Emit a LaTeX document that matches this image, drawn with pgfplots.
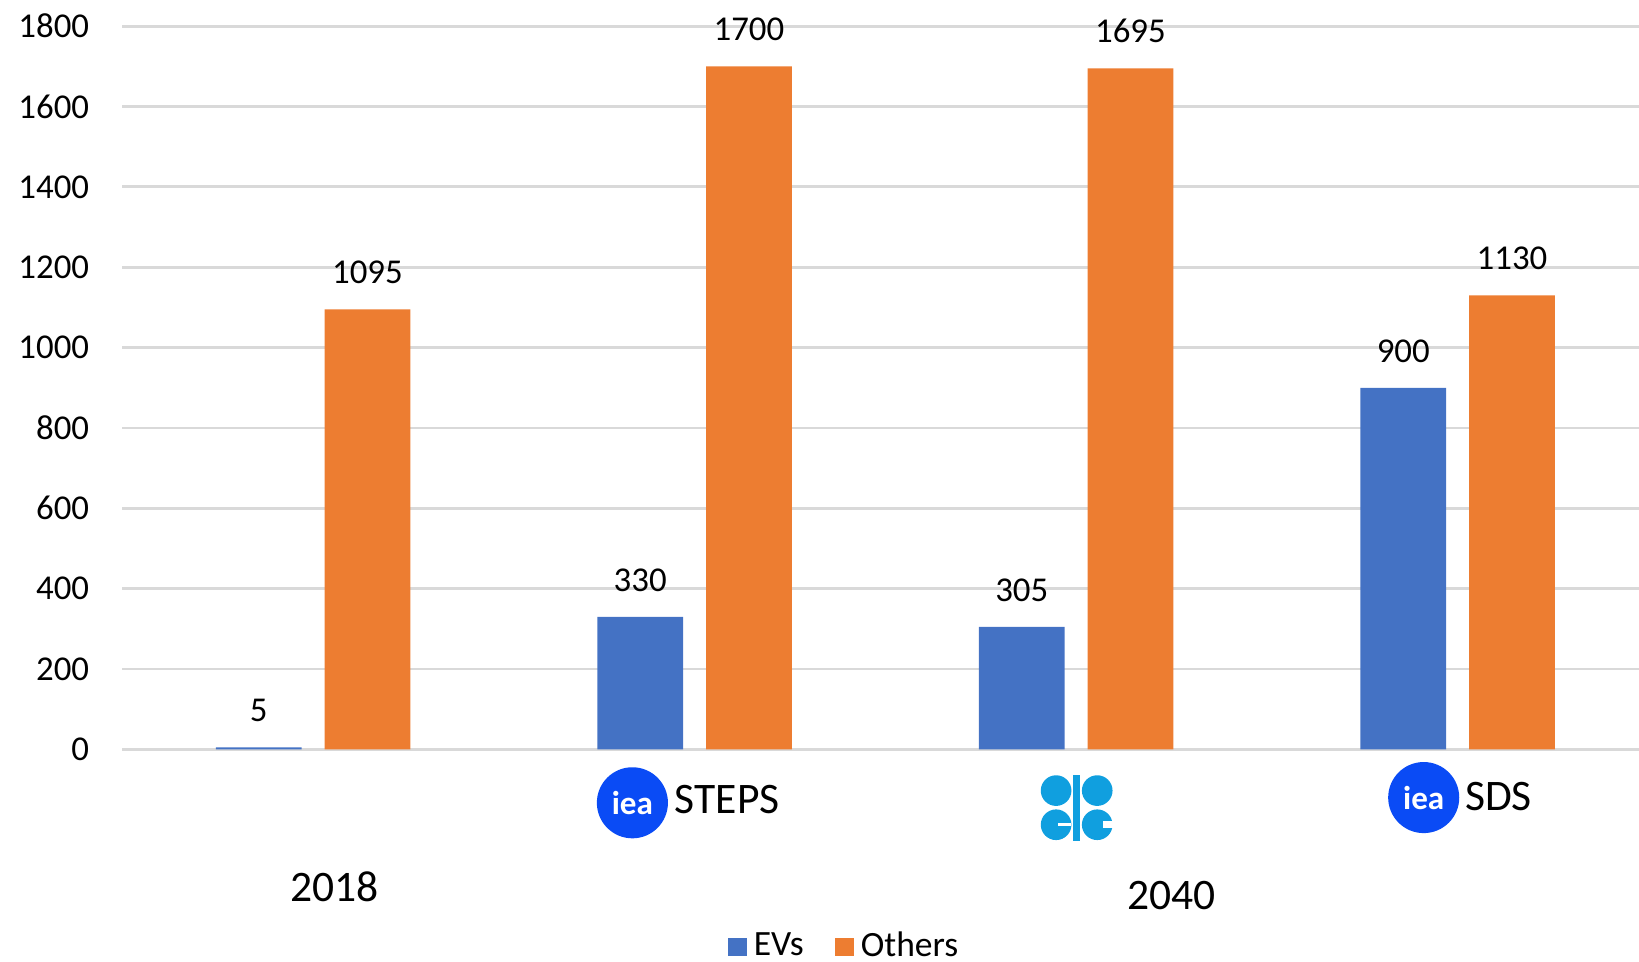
\documentclass[border=0pt]{standalone}
\usepackage{fontspec}
\setmainfont{Carlito}
\usepackage{pgfplots}
\pgfplotsset{compat=1.18}

\definecolor{evblue}{HTML}{4472C4}
\definecolor{othorange}{HTML}{ED7D31}
\definecolor{gridgray}{HTML}{D9D9D9}
\definecolor{ieablue}{HTML}{0A4BF5}
\definecolor{opecblue}{HTML}{109FDF}

\begin{document}
\begin{tikzpicture}
\begin{axis}[
    scale only axis,
    width=435.3pt, height=207.6pt,
    xmin=-0.5, xmax=3.4753,
    ymin=0, ymax=1800,
    ybar=6.6pt, bar width=24.6pt,
    axis line style={draw=none},
    xtick=\empty,
    ytick={0,200,...,1800},
    ymajorgrids,
    grid style={gridgray, line width=0.8pt},
    major tick length=0pt,
    yticklabel style={font=\fontsize{10}{12}\selectfont, xshift=-6pt},
    /pgf/number format/assume math mode=true,
    /pgf/number format/1000 sep={},
    nodes near coords,
    nodes near coords style={font=\fontsize{10}{12}\selectfont, yshift=3.8pt, text=black},
    clip=false,
    legend columns=2,
    legend style={at={(0.4776,-0.2731)}, anchor=center, draw=none, fill=none,
        font=\fontsize{10.2}{12}\selectfont,
        /tikz/every even column/.append style={column sep=7pt}},
    legend image code/.code={\fill[#1] (0pt,-2.7pt) rectangle (5.4pt,2.7pt);},
]
\addplot[fill=evblue, draw=none] coordinates {(0,5) (1,330) (2,305) (3,900)};
\addplot[fill=othorange, draw=none] coordinates {(0,1095) (1,1700) (2,1695) (3,1130)};
\legend{EVs, Others}

% spots for the labels and logos under the axis
\coordinate (bbsw) at (axis cs:-0.8205,-526.5);
\coordinate (bbne) at (axis cs:3.4753,1865);
\coordinate (steps) at (axis cs:0.8370,-132.7);
\coordinate (stepstxt) at (axis cs:0.9466,-124.9);
\coordinate (opec) at (axis cs:2.0014,-145.7);
\coordinate (sds) at (axis cs:2.9110,-119.7);
\coordinate (sdstxt) at (axis cs:3.0178,-117.1);
\coordinate (y2018) at (axis cs:0.0562,-340.8);
\coordinate (y2040) at (axis cs:2.2507,-364.2);
\end{axis}

\node[font=\fontsize{12.5}{15}\selectfont] at (y2018) {2018};
\node[font=\fontsize{12.5}{15}\selectfont] at (y2040) {2040};

% iea logos
\fill[ieablue] (steps) circle[radius=10.2pt];
\node[white, font=\bfseries\fontsize{9.5}{10}\selectfont] at (steps) {iea};
\node[anchor=west, inner sep=0pt, font=\fontsize{12.5}{15}\selectfont] at (stepstxt) {STEPS};
\fill[ieablue] (sds) circle[radius=10.2pt];
\node[white, font=\bfseries\fontsize{9.5}{10}\selectfont] at (sds) {iea};
\node[anchor=west, inner sep=0pt, font=\fontsize{12.5}{15}\selectfont] at (sdstxt) {SDS};

% opec logo, rough
\fill[opecblue] ([shift={(-5.9pt,5pt)}]opec) circle[radius=4.4pt];
\fill[opecblue] ([shift={(5.9pt,5pt)}]opec) circle[radius=4.4pt];
\fill[opecblue] ([shift={(-5.9pt,-4.8pt)}]opec) circle[radius=4.4pt];
\fill[opecblue] ([shift={(5.9pt,-4.8pt)}]opec) circle[radius=4.4pt];
\fill[opecblue] ([shift={(-1pt,-9.5pt)}]opec) rectangle ([shift={(1pt,9.5pt)}]opec);
\fill[white] ([shift={(-5.4pt,-5.3pt)}]opec) rectangle ([shift={(-1.6pt,-4.4pt)}]opec);
\fill[white] ([shift={(7.6pt,-5.7pt)}]opec) rectangle ([shift={(10.5pt,-3.7pt)}]opec);

\pgfresetboundingbox
\useasboundingbox (bbsw) rectangle (bbne);
\end{tikzpicture}
\end{document}
